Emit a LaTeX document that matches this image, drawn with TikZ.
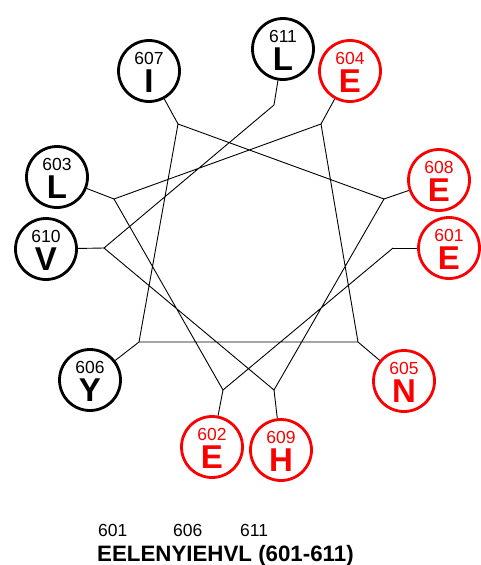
\documentclass[tikz,border=0pt]{standalone}
\usepackage{fontspec}
\setmainfont{Liberation Sans}
\definecolor{resred}{RGB}{250,0,0}
\tikzset{
  rescirc/.style={circle, draw, line width=2.8pt, minimum size=61pt, inner sep=0pt},
  resnum/.style={anchor=base, inner sep=0pt, font=\fontsize{17.5}{17.5}\selectfont},
  reslet/.style={anchor=base, inner sep=0pt, font=\fontsize{33}{33}\selectfont\bfseries},
  wheel/.style={line width=0.9pt, line join=miter},
}
\newcommand{\resid}[6]{%
  \node[rescirc, draw=#6] (r#1) at (#2,#3) {};
  \node[resnum, text=#6] (n#1) at (#2,#3-7) {#1};
  \node[reslet, text=#6] (l#1) at (#2,#3+21) {#5};
}
\begin{document}
\begin{tikzpicture}[x=1pt,y=-1pt]
\useasboundingbox (0,0) rectangle (481,565);
% residues
\resid{601}{449}{248}{}{E}{resred}
\resid{602}{212}{447}{}{E}{resred}
\resid{603}{57}{177}{}{L}{black}
\resid{604}{350}{71}{}{E}{resred}
\resid{605}{404}{381}{}{N}{resred}
\resid{606}{90}{380}{}{Y}{black}
\resid{607}{149}{71}{}{I}{black}
\resid{608}{439}{180}{}{E}{resred}
\resid{609}{281}{450}{}{H}{resred}
\resid{610}{46}{249}{}{V}{black}
\resid{611}{283}{49}{}{L}{black}
% joints
\coordinate (j601) at (393,248);
\coordinate (j602) at (223,390);
\coordinate (j603) at (114,199);
\coordinate (j604) at (321,124);
\coordinate (j605) at (358,342);
\coordinate (j606) at (139,342);
\coordinate (j607) at (178,124);
\coordinate (j608) at (384,199);
\coordinate (j609) at (274,390);
\coordinate (j610) at (104,248);
\coordinate (j611) at (274,105);
\draw[wheel] (j601) -- (j602) -- (j603) -- (j604) -- (j605) -- (j606) -- (j607) -- (j608) -- (j609) -- (j610) -- (j611);
\foreach \k in {601,...,611} { \draw[wheel] (j\k) -- (r\k); }
% sequence
\node[resnum, anchor=base west] (s601) at (98,536) {601};
\node[resnum, anchor=base west] (s606) at (173,536) {606};
\node[resnum, anchor=base west] (s611) at (240,536) {611};
\node[anchor=base west, inner sep=0pt, font=\fontsize{22.3}{22.3}\selectfont\bfseries] (seq) at (97,561) {EELENYIEHVL (601-611)};
\end{tikzpicture}
\end{document}
